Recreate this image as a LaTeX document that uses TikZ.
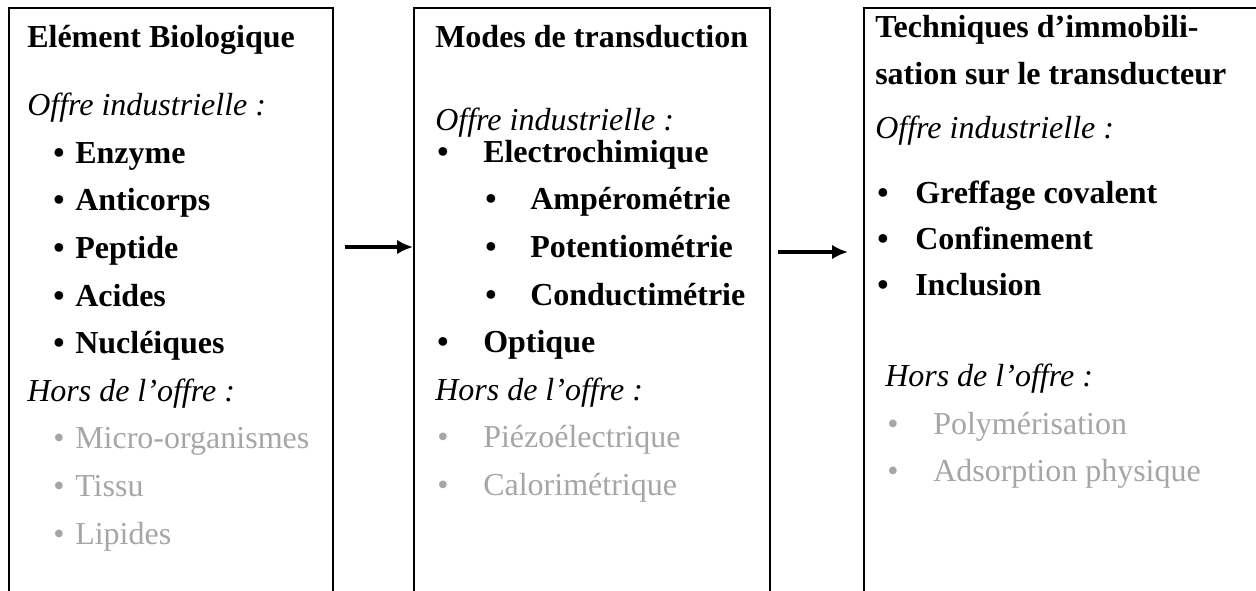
\documentclass[tikz,border=0pt]{standalone}
\usepackage{fontspec}
\setmainfont{Liberation Serif}
\usetikzlibrary{arrows.meta}
\newlength\px
\setlength\px{0.75pt}
\definecolor{offgray}{RGB}{166,166,166}
\newcommand{\onitem}[3]{\hspace*{#1\px}\makebox[#2\px][l]{\textbf{\textbullet}}\textbf{#3}}
\newcommand{\offitem}[3]{{\color{offgray}\hspace*{#1\px}\makebox[#2\px][l]{\textbullet}#3}}

\begin{document}
\begin{tikzpicture}[x=0.75pt,y=-0.75pt,
    frame/.style={draw,line width=1.3pt,anchor=north west,minimum height=800\px,inner sep=0},
    boxtext/.style={anchor=base west,inner sep=0,align=flush left,text width=#1\px,
        font=\fontsize{24}{35.7}\selectfont},
    flow/.style={-{Latex[length=12pt,width=11pt]},line width=2.8pt}]
    \pgfmathsetmacro{\boxtop}{7}
    \useasboundingbox (0,0) rectangle (1256,590);
    \clip (0,0) rectangle (1256,590);
    \node[frame,minimum width=324\px] (bio) at (8,\boxtop) {};
    \node[frame,minimum width=356\px] (transd) at (413,\boxtop) {};
    \node[frame,minimum width=500\px] (immob) at (863,\boxtop) {};
    \node[boxtext=300] (biotxt) at (27,47) {%
        \textbf{Elément Biologique}\\[21\px]
        \textit{Offre industrielle :}\\
        \onitem{26}{22}{Enzyme}\\
        \onitem{26}{22}{Anticorps}\\
        \onitem{26}{22}{Peptide}\\
        \onitem{26}{22}{Acides}\\
        \onitem{26}{22}{Nucléiques}\\
        \textit{Hors de l’offre :}\\
        \offitem{26}{22}{Micro-organismes}\\
        \offitem{26}{22}{Tissu}\\
        \offitem{26}{22}{Lipides}};
    \node[boxtext=340] (transdtxt) at (435,47) {%
        \textbf{Modes de transduction}\\[36\px]
        \textit{Offre industrielle :}\\[-16\px]
        \onitem{2}{46}{Electrochimique}\\
        \onitem{50}{45}{Ampérométrie}\\
        \onitem{50}{45}{Potentiométrie}\\
        \onitem{50}{45}{Conductimétrie}\\
        \onitem{2}{46}{Optique}\\
        \textit{Hors de l’offre :}\\
        \offitem{2}{46}{Piézoélectrique}\\
        \offitem{2}{46}{Calorimétrique}};
    \node[boxtext=385] (immobtxt) at (875,37) {%
        \textbf{Techniques d’immobili-}\\
        \textbf{sation sur le transducteur}\\[6\px]
        \textit{Offre industrielle :}\\[18\px]
        \onitem{2}{38}{Greffage covalent}\\[-2\px]
        \onitem{2}{38}{Confinement}\\[-2\px]
        \onitem{2}{38}{Inclusion}\\[44\px]
        \hspace*{10\px}\textit{Hors de l’offre :}\\
        \offitem{12}{46}{Polymérisation}\\
        \offitem{12}{46}{Adsorption physique}};
    % arrows between the boxes
    \draw[flow,shorten <=11\px] (bio.east |- 0,247) -- (transd.west |- 0,247);
    \draw[flow,shorten <=7\px,shorten >=15\px] (transd.east |- 0,252) -- (immob.west |- 0,252);
\end{tikzpicture}
\end{document}
